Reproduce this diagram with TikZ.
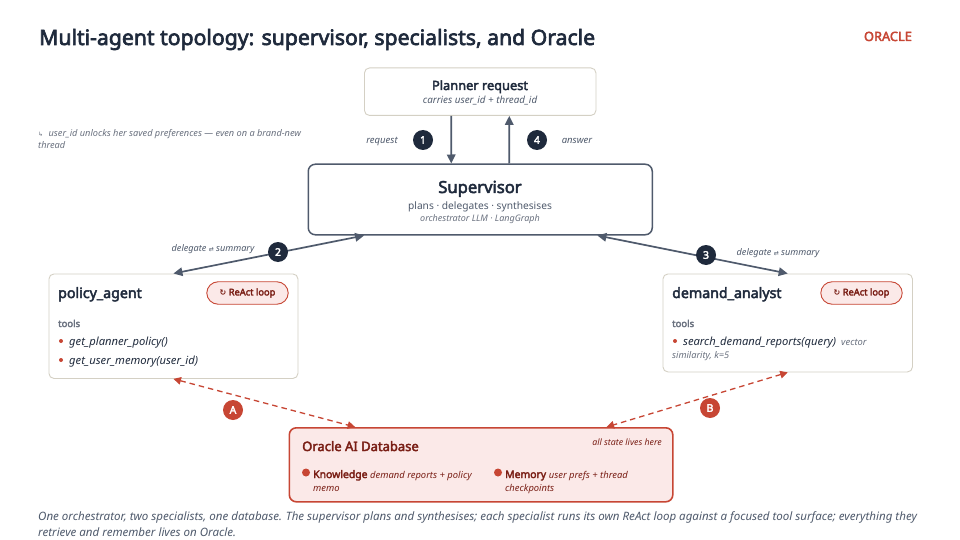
\documentclass[tikz,border=0pt]{standalone}
\usepackage{fontspec}
\setmainfont{Noto Sans}[AutoFakeBold=3]
\newfontfamily\symfont{DejaVu Sans}
\usetikzlibrary{arrows.meta,calc}
\definecolor{ink}{HTML}{1F2A3C}
\definecolor{slate}{HTML}{4F5A6C}
\definecolor{muted}{HTML}{6B7280}
\definecolor{orared}{HTML}{C74634}
\definecolor{oradark}{HTML}{7A1F16}
\definecolor{orafill}{HTML}{FBE9E8}
\definecolor{sand}{HTML}{D4D0C4}
\tikzset{
  x=1pt,y=-1pt,
  card/.style={draw=sand,line width=0.9pt,rounded corners=5pt,fill=white,anchor=north west,inner sep=0pt},
  supbox/.style={draw=slate,line width=1.5pt,rounded corners=7pt,fill=white,anchor=north west,inner sep=0pt},
  dbbox/.style={draw=orared,line width=1.6pt,rounded corners=7pt,fill=orafill,anchor=north west,inner sep=0pt},
  pill/.style={draw=orared,line width=0.9pt,rounded corners=11.5pt,fill=orafill,minimum width=81.5pt,minimum height=22.5pt,inner sep=0pt,text=oradark,font=\fontsize{9.3}{11}\selectfont\bfseries},
  badge/.style={circle,fill=ink,text=white,minimum size=20pt,inner sep=0pt,font=\fontsize{10.5}{12}\selectfont\bfseries},
  rbadge/.style={circle,fill=orared,text=white,minimum size=20pt,inner sep=0pt,font=\fontsize{10.5}{12}\selectfont\bfseries},
  flow/.style={draw=slate,line width=1.7pt,-{Triangle[length=9pt,width=8.5pt]}},
  flowboth/.style={draw=slate,line width=1.7pt,{Triangle[length=9pt,width=8.5pt]}-{Triangle[length=9pt,width=8.5pt]}},
  dbflow/.style={draw=orared,line width=1.3pt,dash pattern=on 5.5pt off 4pt,{Triangle[length=7.5pt,width=7.5pt]}-{Triangle[length=7.5pt,width=7.5pt]}},
  edgelab/.style={inner sep=0pt,text=slate,font=\fontsize{9.5}{11}\selectfont\itshape},
  headl/.style={inner sep=0pt,anchor=base west,text=ink,font=\fontsize{14.2}{16}\selectfont\bfseries},
  toolsl/.style={inner sep=0pt,anchor=base west,text=muted,font=\fontsize{9.5}{11}\selectfont\bfseries},
  item/.style={inner sep=0pt,anchor=base west,text=ink,font=\fontsize{11.2}{13}\selectfont\itshape},
  dot/.style={circle,fill=orared,inner sep=0pt,minimum size=4pt},
  bigdot/.style={circle,fill=orared,inner sep=0pt,minimum size=8pt},
}
\begin{document}
\begin{tikzpicture}
\useasboundingbox (0,0) rectangle (960,540);
\fill[white] (0,0) rectangle (960,540);
% title
\node[inner sep=0pt,anchor=base west,text=ink,font=\fontsize{21.2}{25}\selectfont\bfseries] (title) at (39,45) {Multi-agent topology: supervisor, specialists, and Oracle};
\node[inner sep=0pt,anchor=base east,text=orared,font=\fontsize{12.8}{14}\selectfont\bfseries] (logo) at (912,41) {ORACLE};
% boxes
\node[card,minimum width=231.5pt,minimum height=47.5pt] (plan) at (364,67.5) {};
\node[supbox,minimum width=344pt,minimum height=70.5pt] (sup) at (307.5,163.5) {};
\node[card,minimum width=249pt,minimum height=104.5pt] (pol) at (48.5,273.5) {};
\node[card,minimum width=249.5pt,minimum height=98pt] (dem) at (662.5,273.5) {};
\node[dbbox,minimum width=383.5pt,minimum height=74pt] (db) at (288.5,427) {};
% planner text
\node[inner sep=0pt,anchor=base,text=ink,font=\fontsize{12.8}{15}\selectfont\bfseries] (plant) at (480,90) {Planner request};
\node[inner sep=0pt,anchor=base,text=slate,font=\fontsize{9.8}{11}\selectfont\itshape] (plans) at (480,104) {carries user\_id + thread\_id};
% note
\node[inner sep=0pt,anchor=base west,text=muted,font=\fontsize{9.2}{11}\selectfont\itshape] (note1) at (38,137) {{\symfont\fontsize{6}{8}\selectfont\upshape ↳}\hspace{3pt} user\_id unlocks her saved preferences — even on a brand-new};
\node[inner sep=0pt,anchor=base west,text=muted,font=\fontsize{9.2}{11}\selectfont\itshape] (note2) at (38,149) {thread};
% supervisor text
\node[inner sep=0pt,anchor=base,text=ink,font=\fontsize{16.6}{19}\selectfont\bfseries] (supt) at (480,193) {Supervisor};
\node[inner sep=0pt,anchor=base,text=slate,font=\fontsize{10.2}{12}\selectfont] (sups) at (480,209) {plans · delegates · synthesises};
\node[inner sep=0pt,anchor=base,text=muted,font=\fontsize{9}{10}\selectfont\itshape] (supo) at (480,221) {orchestrator LLM · LangGraph};
% connectors top
\coordinate (pa) at ($(plan.south west)!.375!(plan.south east)$);
\coordinate (pb) at ($(plan.south west)!.625!(plan.south east)$);
\coordinate (sa) at ($(sup.north west)!.416!(sup.north east)$);
\coordinate (sb) at ($(sup.north west)!.584!(sup.north east)$);
\coordinate (sl) at ($(sup.south west)!.164!(sup.south east)$);
\coordinate (sr) at ($(sup.south west)!.839!(sup.south east)$);
\coordinate (dl) at ($(db.north west)!.173!(db.north east)$);
\coordinate (dr) at ($(db.north west)!.826!(db.north east)$);
\draw[flow] (pa) -- (sa);
\draw[flow] (sb) -- (pb);
\draw[flowboth] (sl) -- (pol.north);
\draw[flowboth] (sr) -- (dem.north);
\draw[dbflow] (pol.south) -- (dl);
\draw[dbflow] (dem.south) -- (dr);
% badges and labels
\node[badge] (b1) at (423,140) {1};
\node[badge] (b4) at (537,140) {4};
\node[badge] (b2) at (278,252) {2};
\node[badge] (b3) at (706,255) {3};
\node[rbadge] (ba) at (233,410) {A};
\node[rbadge] (bb) at (710,408) {B};
\node[edgelab,anchor=base] (lreq) at (382,144) {request};
\node[edgelab,anchor=base] (lans) at (577,144) {answer};
\node[edgelab,anchor=base,font=\fontsize{9.1}{10}\selectfont\itshape] (ldl) at (213,251) {delegate {\symfont\fontsize{6}{8}\selectfont\upshape ⇄} summary};
\node[edgelab,anchor=base,font=\fontsize{9.1}{10}\selectfont\itshape] (ldr) at (778,255) {delegate {\symfont\fontsize{6}{8}\selectfont\upshape ⇄} summary};
% policy agent
\node[headl] (polt) at (58,298) {policy\_agent};
\node[pill] (polp) at (247.5,293) {{\symfont\fontsize{8}{10}\selectfont\upshape ↻} ReAct loop};
\node[toolsl] (polk) at (58,327) {tools};
\node[dot] (pold1) at (61,341) {};
\node[item] (poli1) at (69,345) {get\_planner\_policy()};
\node[dot] (pold2) at (61,360) {};
\node[item] (poli2) at (69,364) {get\_user\_memory(user\_id)};
% demand analyst
\node[headl] (demt) at (672,298) {demand\_analyst};
\node[pill] (demp) at (861.5,293) {{\symfont\fontsize{8}{10}\selectfont\upshape ↻} ReAct loop};
\node[toolsl] (demk) at (672,327) {tools};
\node[dot] (demd) at (675,341) {};
\node[item] (demi) at (683,345) {search\_demand\_reports(query)\hspace{5pt}{\fontsize{9.4}{11}\selectfont\color{muted}vector}};
\node[inner sep=0pt,anchor=base west,text=muted,font=\fontsize{9.2}{11}\selectfont\itshape] (dems) at (672,358) {similarity, k=5};
% database
\node[inner sep=0pt,anchor=base west,text=oradark,font=\fontsize{13}{15}\selectfont\bfseries] (dbt) at (302,451) {Oracle AI Database};
\node[inner sep=0pt,anchor=base east,text=oradark,font=\fontsize{8.8}{10}\selectfont\itshape] (dbs) at (662,445) {all state lives here};
\node[bigdot] (dbd1) at (306,472.5) {};
\node[inner sep=0pt,anchor=base west,text=oradark,font=\fontsize{10.4}{12}\selectfont\bfseries] (k1) at (313,478) {Knowledge \fontsize{9.4}{11}\selectfont\mdseries\itshape demand reports + policy};
\node[inner sep=0pt,anchor=base west,text=oradark,font=\fontsize{9.4}{11}\selectfont\itshape] (k2) at (313,491) {memo};
\node[bigdot] (dbd2) at (498,472.5) {};
\node[inner sep=0pt,anchor=base west,text=oradark,font=\fontsize{10.4}{12}\selectfont\bfseries] (m1) at (505,478) {Memory \fontsize{9.4}{11}\selectfont\mdseries\itshape user prefs + thread};
\node[inner sep=0pt,anchor=base west,text=oradark,font=\fontsize{9.4}{11}\selectfont\itshape] (m2) at (505,491) {checkpoints};
% footer
\node[inner sep=0pt,anchor=base west,text=slate,font=\fontsize{11.55}{13}\selectfont\itshape] (f1) at (38,520) {One orchestrator, two specialists, one database. The supervisor plans and synthesises; each specialist runs its own ReAct loop against a focused tool surface; everything they};
\node[inner sep=0pt,anchor=base west,text=slate,font=\fontsize{11.55}{13}\selectfont\itshape] (f2) at (38,536) {retrieve and remember lives on Oracle.};
\end{tikzpicture}
\end{document}
